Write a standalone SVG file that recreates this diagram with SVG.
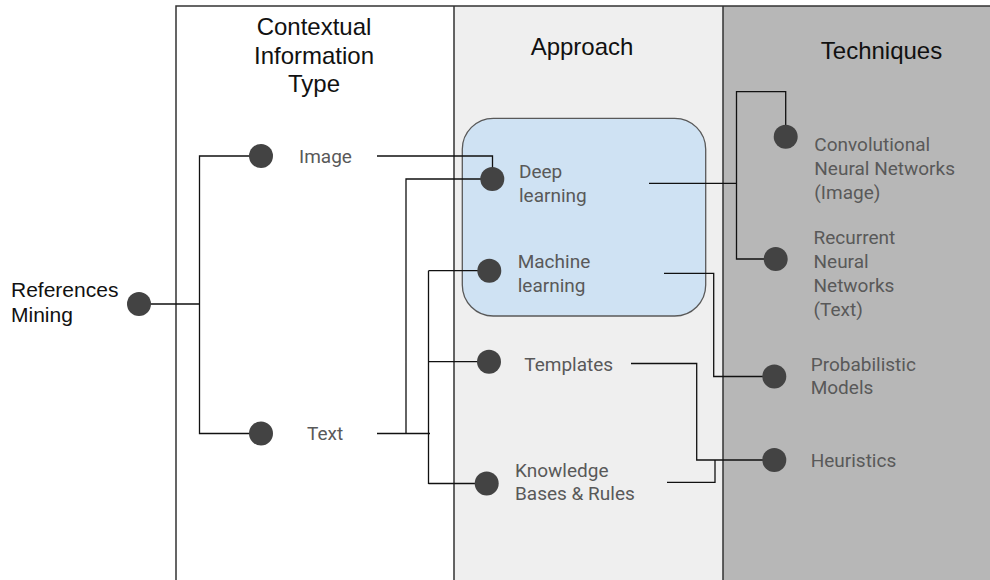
<svg xmlns="http://www.w3.org/2000/svg" width="990" height="580" viewBox="0 0 990 580">
<style>
.hdr{font-family:"Liberation Sans",Arial,sans-serif;font-size:24px;fill:#111;text-anchor:middle}
.lbl{font-family:Roboto,"Noto Sans",sans-serif;font-size:19px;fill:#595959}
.root{font-family:"Liberation Sans",Arial,sans-serif;font-size:21px;fill:#111}
.dot{fill:#434343}
.con{fill:none;stroke:#111;stroke-width:1.3}
.frame{fill:none;stroke:#333;stroke-width:1.5}
</style>
<rect x="0" y="0" width="990" height="580" fill="#ffffff"/>
<g id="columns">
<rect x="454" y="6" width="269" height="574" fill="#efefef"/>
<rect x="723" y="6" width="267" height="574" fill="#b7b7b7"/>
<path class="frame" d="M176,580 V6 H991 M454,6 V580 M723,6 V580"/>
<text class="hdr" x="314" y="34.5">Contextual</text>
<text class="hdr" x="314" y="63.5">Information</text>
<text class="hdr" x="314" y="92">Type</text>
<text class="hdr" x="582" y="55">Approach</text>
<text class="hdr" x="881.5" y="58.5">Techniques</text>
</g>
<g id="deep-group">
<rect x="462.3" y="118.3" width="243.4" height="197.7" rx="31" ry="31" fill="#cfe2f3" stroke="#595959" stroke-width="1.3"/>
</g>
<g id="connectors">
<path class="con" d="M261,156 H199.5 V433.5 H261 M139,304 H199.5"/>
<path class="con" d="M377,156 H492.5 V179"/>
<path class="con" d="M377,433.5 H430 M406,433.5 V179 H492 M428.5,270.7 V484 M428.5,270.7 H489 M428.5,361.7 H489 M428.5,483.5 H487"/>
<path class="con" d="M649,183.3 H736.5 M775.7,259 H736.5 V91.7 H785.7 V137"/>
<path class="con" d="M664,273.3 H713.7 V376.5 H774.3"/>
<path class="con" d="M631,363.5 H696.7 V460 H774.3"/>
<path class="con" d="M667,482.3 H715 V460"/>
</g>
<g id="references-mining">
<circle class="dot" cx="139" cy="304" r="12"/>
<text class="root" x="11" y="296.5">References</text>
<text class="root" x="11" y="321.5">Mining</text>
</g>
<g id="image">
<circle class="dot" cx="261" cy="156" r="12"/>
<text class="lbl" x="299" y="163.3">Image</text>
</g>
<g id="text">
<circle class="dot" cx="261" cy="433.5" r="12"/>
<text class="lbl" x="307" y="440">Text</text>
</g>
<g id="deep-learning">
<circle class="dot" cx="492.3" cy="179" r="12"/>
<text class="lbl" x="519" y="178.3">Deep</text>
<text class="lbl" x="519" y="201.7">learning</text>
</g>
<g id="machine-learning">
<circle class="dot" cx="489.3" cy="270.7" r="12"/>
<text class="lbl" x="517.7" y="268.3">Machine</text>
<text class="lbl" x="517.7" y="292">learning</text>
</g>
<g id="templates">
<circle class="dot" cx="489" cy="361.7" r="12"/>
<text class="lbl" x="524.3" y="371">Templates</text>
</g>
<g id="knowledge">
<circle class="dot" cx="486.7" cy="483.5" r="12"/>
<text class="lbl" x="515" y="476.7">Knowledge</text>
<text class="lbl" x="515" y="500">Bases &amp; Rules</text>
</g>
<g id="cnn">
<circle class="dot" cx="785.7" cy="136.7" r="12"/>
<text class="lbl" x="814.3" y="151">Convolutional</text>
<text class="lbl" x="814.3" y="175">Neural Networks</text>
<text class="lbl" x="814.3" y="199">(Image)</text>
</g>
<g id="rnn">
<circle class="dot" cx="775.7" cy="259" r="12"/>
<text class="lbl" x="813.5" y="243.5">Recurrent</text>
<text class="lbl" x="813.5" y="267.5">Neural</text>
<text class="lbl" x="813.5" y="291.5">Networks</text>
<text class="lbl" x="813.5" y="315.5">(Text)</text>
</g>
<g id="probabilistic">
<circle class="dot" cx="774.3" cy="376.5" r="12"/>
<text class="lbl" x="810.7" y="370.7">Probabilistic</text>
<text class="lbl" x="810.7" y="394.3">Models</text>
</g>
<g id="heuristics">
<circle class="dot" cx="774.3" cy="460" r="12"/>
<text class="lbl" x="810.7" y="466.7">Heuristics</text>
</g>
</svg>
